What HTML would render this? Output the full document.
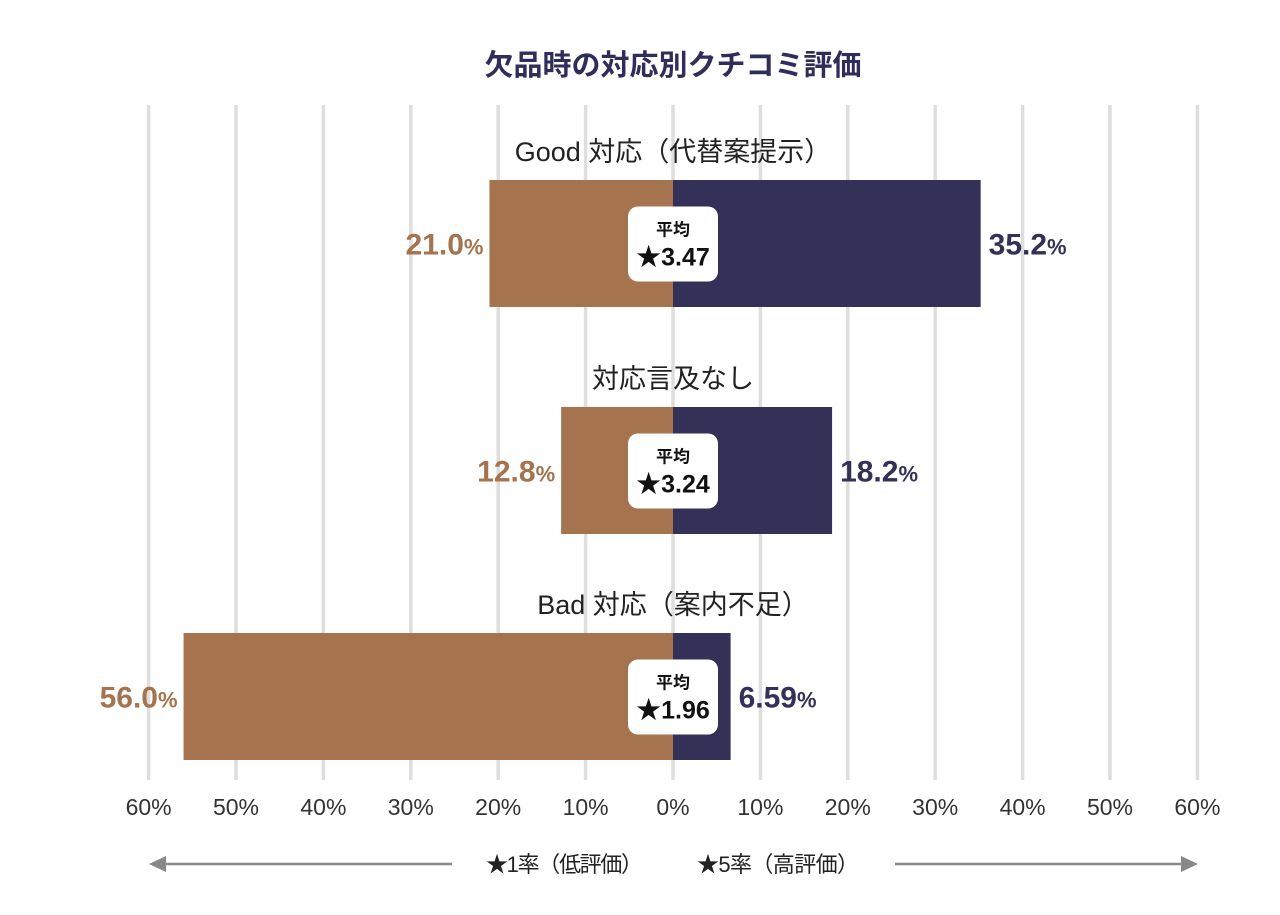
<!DOCTYPE html>
<html><head><meta charset="utf-8"><style>
body{margin:0;background:#fff;}
svg{display:block;font-family:"Liberation Sans","Noto Sans CJK JP",sans-serif;}
</style></head><body>
<svg id="chart" width="1280" height="915">
<text x="673" y="75" text-anchor="middle" font-size="29" font-weight="bold" fill="#2f2d5a">欠品時の対応別クチコミ評価</text>
<g id="grid"></g><g id="bars"></g><g id="ticks"></g>
<g>
<line x1="452" y1="864" x2="162" y2="864" stroke="#888" stroke-width="2.5"/>
<polygon points="149,864 166,856 166,872" fill="#888"/>
<line x1="895" y1="864" x2="1185" y2="864" stroke="#888" stroke-width="2.5"/>
<polygon points="1198,864 1181,856 1181,872" fill="#888"/>
<text x="486" y="872" font-size="22" fill="#222" textLength="157">★1率（低評価）</text>
<text x="697" y="872" font-size="22" fill="#222" textLength="162">★5率（高評価）</text>
</g>
</svg>
<script>
const categories=["Good 対応（代替案提示）","対応言及なし","Bad 対応（案内不足）"];
const lowRates=[21.0,12.8,56.0];
const highRates=[35.2,18.2,6.59];
const lowLabels=["21.0","12.8","56.0"];
const highLabels=["35.2","18.2","6.59"];
const averages=["3.47","3.24","1.96"];
const tickValues=[60,50,40,30,20,10,0,10,20,30,40,50,60];
const NS="http://www.w3.org/2000/svg";
const zero=673, unit=8.74;
function xL(v){return zero-v*unit;}
function xR(v){return zero+v*unit;}
function mk(p,tag,a,t){const e=document.createElementNS(NS,tag);for(const k in a)e.setAttribute(k,a[k]);if(t!=null)e.textContent=t;p.appendChild(e);return e;}
const grid=document.getElementById('grid'),bars=document.getElementById('bars'),ticks=document.getElementById('ticks');
tickValues.forEach((v,i)=>{
  const x=i<6?xL(v):xR(v);
  const l=mk(grid,'line',{x1:x,x2:x,y1:105,y2:780,stroke:'#dedede','stroke-width':3.5});
  
  
  const t=mk(ticks,'text',{x:x,y:815,'text-anchor':'middle','font-size':23,fill:'#333'},v+'%');
  
  
});
const tops=[180,407,633],bh=127;
categories.forEach((c,i)=>{
  const y=tops[i],cy=y+bh/2;
  const g=mk(bars,'g',{});
  
  
  const ct=mk(g,'text',{x:zero,y:y-19,'text-anchor':'middle','font-size':27,fill:'#222'},c);
  
  
  const lb=mk(g,'rect',{x:xL(lowRates[i]),y:y,width:lowRates[i]*unit,height:bh,fill:'#a5734d'});
  
  
  const hb=mk(g,'rect',{x:zero,y:y,width:highRates[i]*unit,height:bh,fill:'#333158'});
  
  
  const lt=mk(g,'text',{x:xL(lowRates[i])-6,y:cy+11,'text-anchor':'end','font-size':30,'font-weight':'bold',fill:'#a5734d'});
  lt.innerHTML=lowLabels[i]+'<tspan font-size="22">%</tspan>';
  
  
  const ht=mk(g,'text',{x:xR(highRates[i])+8,y:cy+11,'font-size':30,'font-weight':'bold',fill:'#333158'});
  ht.innerHTML=highLabels[i]+'<tspan font-size="22">%</tspan>';
  
  
  const bd=mk(g,'rect',{x:628,y:cy-37,width:90,height:75,rx:10,fill:'#fff'});
  
  
  const a1=mk(g,'text',{x:673,y:cy-8,'text-anchor':'middle','font-size':17,'font-weight':'bold',fill:'#111'},'平均');
  
  
  const a2=mk(g,'text',{x:673,y:cy+22,'text-anchor':'middle','font-size':25,'font-weight':'bold',fill:'#111'},'★'+averages[i]);
  
  
});
</script>
</body></html>
